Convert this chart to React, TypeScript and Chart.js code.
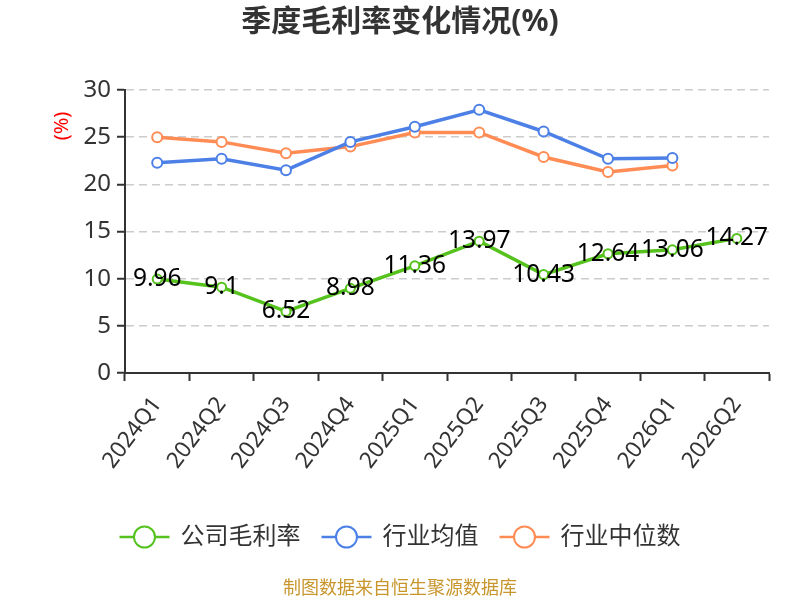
import React, { useEffect, useRef } from "react";
import { Chart, registerables } from "chart.js";

Chart.register(...registerables);

const categories = ["2024Q1", "2024Q2", "2024Q3", "2024Q4", "2025Q1", "2025Q2", "2025Q3", "2025Q4", "2026Q1", "2026Q2"];
const companyMargin = [9.96, 9.1, 6.52, 8.98, 11.36, 13.97, 10.43, 12.64, 13.06, 14.27];
const industryAvg = [22.3, 22.7, 21.5, 24.5, 26.1, 27.9, 25.6, 22.7, 22.8, null];
const industryMedian = [25.0, 24.5, 23.3, 24.0, 25.5, 25.5, 22.9, 21.3, 22.0, null];
const seriesNames = ["公司毛利率", "行业均值", "行业中位数"];
const seriesColors = ["#55C21E", "#4C80E6", "#FF8C55"];
const titleText = "季度毛利率变化情况(%)";
const footerText = "制图数据来自恒生聚源数据库";
const yUnit = "(%)";

const FONT = "'Noto Sans', 'Noto Sans CJK SC', sans-serif";

const decorPlugin = {
  id: "decor",
  afterDatasetsDraw(chart: any) {
    const ctx = chart.ctx as CanvasRenderingContext2D;
    const meta = chart.getDatasetMeta(0);
    ctx.save();
    ctx.font = `24.5px ${FONT}`;
    ctx.fillStyle = "#000";
    ctx.textAlign = "center";
    ctx.textBaseline = "middle";
    meta.data.forEach((pt: any, i: number) => {
      const v = companyMargin[i];
      if (v == null) return;
      ctx.fillText(String(v), pt.x, pt.y);
    });
    ctx.restore();
  },
  afterDraw(chart: any) {
    const ctx = chart.ctx as CanvasRenderingContext2D;
    const w = chart.width;
    ctx.save();
    // title
    ctx.font = `bold 30px ${FONT}`;
    ctx.fillStyle = "#333";
    ctx.textAlign = "center";
    ctx.textBaseline = "middle";
    ctx.fillText(titleText, w / 2, 22);

    // y unit
    ctx.save();
    ctx.translate(62, 126);
    ctx.rotate(-Math.PI / 2);
    ctx.font = `20px ${FONT}`;
    ctx.fillStyle = "#FF0000";
    ctx.textAlign = "center";
    ctx.textBaseline = "middle";
    ctx.fillText(yUnit, 0, 0);
    ctx.restore();

    // legend
    ctx.font = `24px ${FONT}`;
    const symW = 50;
    const gapText = 11;
    const gapItem = 21;
    const widths = seriesNames.map((n) => ctx.measureText(n).width);
    const total = widths.reduce((a, b) => a + b, 0) + seriesNames.length * (symW + gapText) + gapItem * (seriesNames.length - 1);
    let x = w / 2 - total / 2;
    const ly = 537;
    seriesNames.forEach((name, i) => {
      const c = seriesColors[i];
      ctx.strokeStyle = c;
      ctx.lineWidth = 2.5;
      ctx.beginPath();
      ctx.moveTo(x, ly);
      ctx.lineTo(x + symW, ly);
      ctx.stroke();
      ctx.beginPath();
      ctx.arc(x + symW / 2, ly, 10.5, 0, Math.PI * 2);
      ctx.fillStyle = "#fff";
      ctx.fill();
      ctx.lineWidth = 2;
      ctx.stroke();
      ctx.fillStyle = "#333";
      ctx.textAlign = "left";
      ctx.textBaseline = "middle";
      ctx.fillText(name, x + symW + gapText, ly);
      x += symW + gapText + widths[i] + gapItem;
    });

    // footer
    ctx.font = `18px ${FONT}`;
    ctx.fillStyle = "#C8962D";
    ctx.textAlign = "center";
    ctx.textBaseline = "middle";
    ctx.fillText(footerText, w / 2, 589);
    ctx.restore();
  },
};

export default function App() {
  const ref = useRef<HTMLCanvasElement | null>(null);

  useEffect(() => {
    document.body.style.margin = "0";
    const canvas = ref.current;
    if (!canvas) return;
    const makeDs = (label: string, data: (number | null)[], color: string, r: number) => ({
      label,
      data,
      borderColor: color,
      backgroundColor: "#fff",
      pointBackgroundColor: "#fff",
      pointBorderColor: color,
      pointBorderWidth: 2,
      pointRadius: r,
      borderWidth: 3.5,
      tension: 0,
      spanGaps: false,
    });
    const chart = new Chart(canvas, {
      type: "line",
      data: {
        labels: categories,
        datasets: [
          makeDs(seriesNames[0], companyMargin, seriesColors[0], 4.5),
          makeDs(seriesNames[1], industryAvg, seriesColors[1], 5),
          makeDs(seriesNames[2], industryMedian, seriesColors[2], 5),
        ],
      },
      options: {
        responsive: false,
        animation: false,
        layout: { padding: { top: 90, left: 0, right: 31, bottom: 127 } },
        plugins: {
          legend: { display: false },
          title: { display: false },
          tooltip: { enabled: false },
        },
        scales: {
          x: {
            offset: true,
            afterFit: (s: any) => {
              s.height = 100;
            },
            grid: {
              offset: true,
              drawOnChartArea: false,
              drawTicks: true,
              tickLength: 8,
              tickColor: "#333",
              tickWidth: 2,
            },
            border: { color: "#333", width: 2 },
            ticks: {
              color: "#333",
              font: { size: 22.5, family: FONT },
              minRotation: 53,
              maxRotation: 53,
              padding: 11,
              autoSkip: false,
            },
          },
          y: {
            min: 0,
            max: 30,
            afterFit: (s: any) => {
              s.width = 125;
            },
            grid: {
              color: "#CCCCCC",
              lineWidth: 1.5,
              tickLength: 8,
              tickColor: "#333",
              tickWidth: 2,
              tickBorderDash: [],
            },
            border: { color: "#333", width: 2, dash: [8, 5] },
            ticks: {
              stepSize: 5,
              color: "#333",
              font: { size: 24, family: FONT },
              padding: 6,
            },
          },
        },
      },
      plugins: [decorPlugin],
    });
    return () => chart.destroy();
  }, []);

  return (
    <div style={{ width: 800, height: 600 }}>
      <canvas ref={ref} width={800} height={600} style={{ width: 800, height: 600, display: "block" }} />
    </div>
  );
}
